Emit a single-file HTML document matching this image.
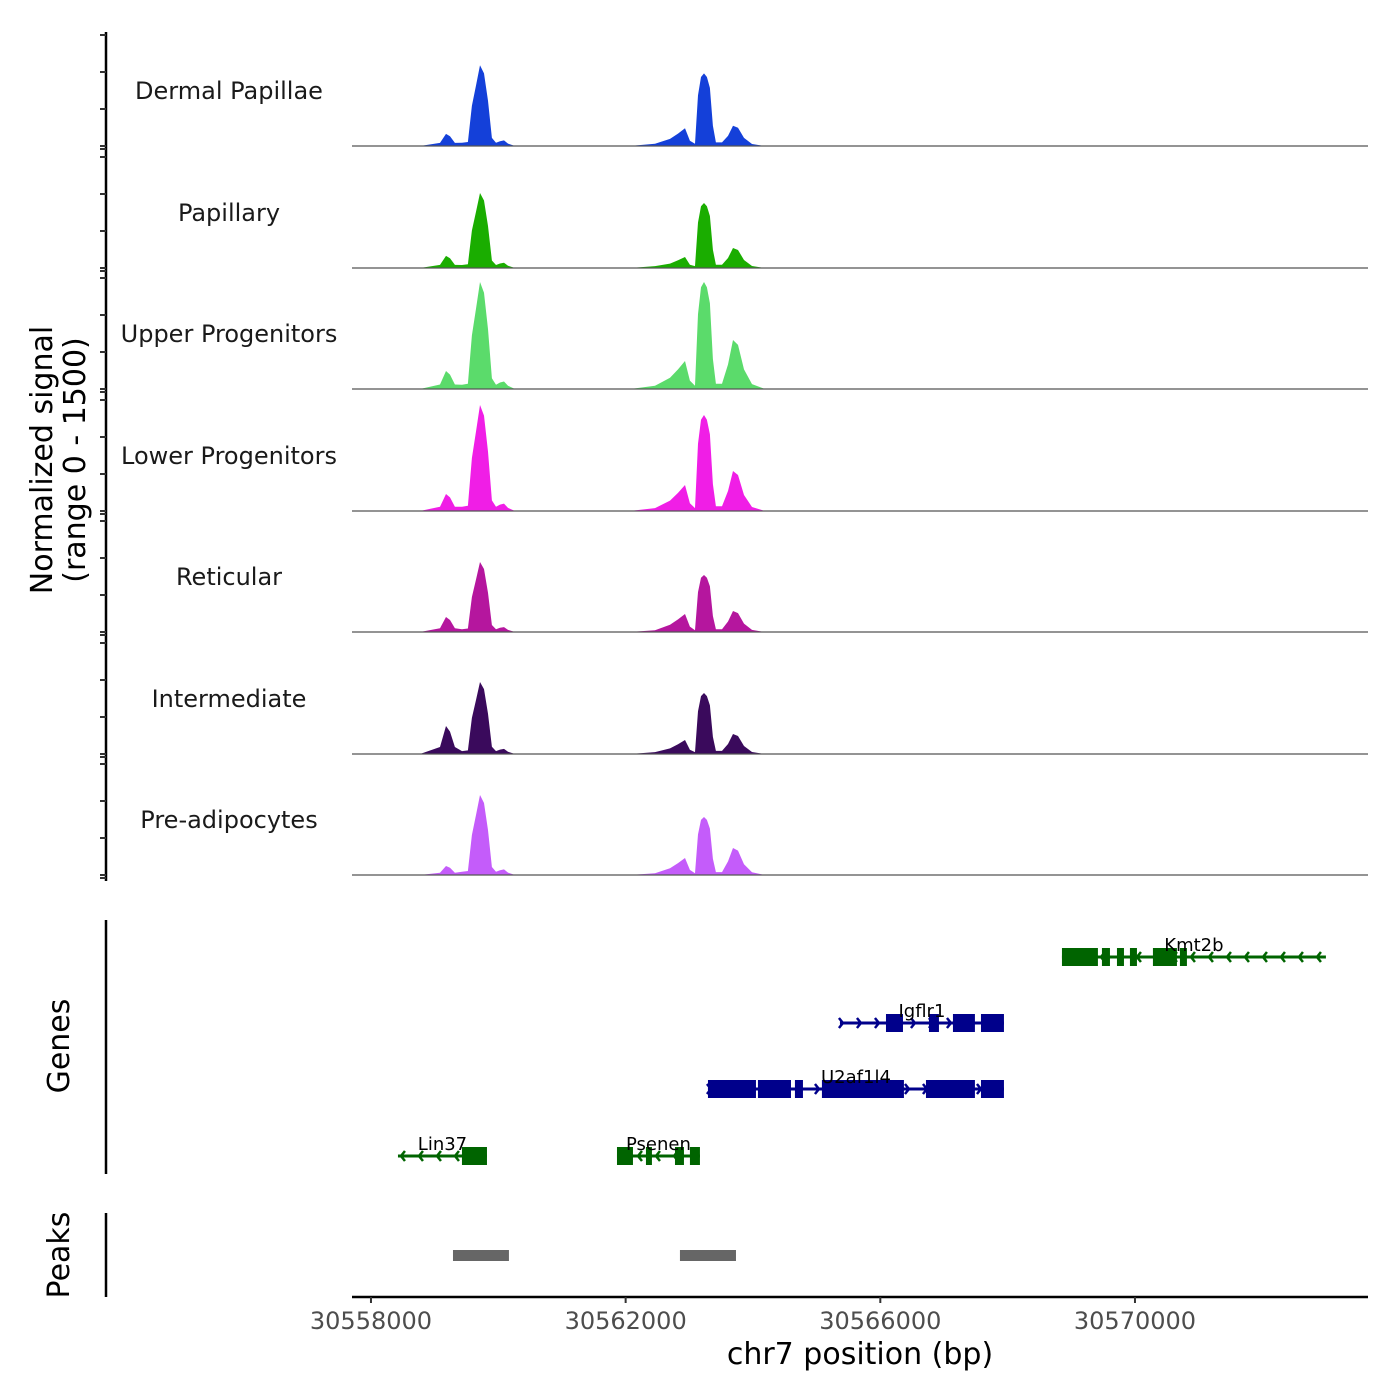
<!DOCTYPE html>
<html><head><meta charset="utf-8">
<style>
html,body{margin:0;padding:0;background:#fff;}
svg{display:block;font-family:"DejaVu Sans","Liberation Sans",sans-serif;}
</style></head>
<body>
<svg id="chart" width="1400" height="1400" viewBox="0 0 1400 1400" xmlns="http://www.w3.org/2000/svg">
<rect width="1400" height="1400" fill="#fff"/>
<g id="tracks"></g>
<g id="genes"></g>
<g id="peaks"></g>
<g id="axes"></g>
</svg>
<script>
// ---- data ----
const binPositions = [30557702,30558770,30559084,30559178,30559241,30559319,30559429,30559523,30559586,30559649,30559712,30559775,30559838,30559900,30559963,30560026,30560089,30560152,30560262,30562068,30562461,30562696,30562822,30562932,30563010,30563089,30563136,30563183,30563230,30563277,30563324,30563371,30563418,30563513,30563607,30563686,30563764,30563859,30563984,30564188,30573660];
const trackNames = ["Dermal Papillae","Papillary","Upper Progenitors","Lower Progenitors","Reticular","Intermediate","Pre-adipocytes"];
const trackColors = ["#1440d9","#1aad00","#5bdb6b","#f01ee6","#b5169e","#3a0a5c","#c45cfa"];
const dermalValues = [0,0,38,150,120,38,40,50,500,750,1000,900,560,100,40,60,70,30,0,0,27,88,154,220,66,27,630,855,900,855,720,252,45,45,125,250,225,100,25,0,0];
const papillaryValues = [0,0,38,150,120,38,37,47,465,698,930,837,521,93,37,56,65,28,0,0,24,54,95,136,41,24,564,766,806,766,645,226,40,40,124,248,223,99,25,0,0];
const upperValues = [0,0,56,223,178,56,53,66,664,995,1327,1194,743,133,53,80,93,40,0,0,40,139,243,347,104,40,929,1261,1327,1261,1062,372,66,66,304,608,547,243,61,0,0];
const lowerValues = [0,0,53,211,169,53,53,66,657,986,1314,1183,736,131,53,79,92,39,0,0,36,129,225,322,97,36,833,1131,1190,1131,952,333,60,60,248,496,446,198,50,0,0];
const reticularValues = [0,0,47,186,149,47,35,43,434,651,868,781,486,87,35,52,61,26,0,0,21,89,156,223,67,21,495,672,707,672,566,198,35,35,130,260,234,104,26,0,0];
const intermediateValues = [0,0,87,347,278,87,36,45,447,670,893,804,500,89,36,54,63,27,0,0,23,70,122,174,52,23,529,718,756,718,605,212,38,38,124,248,223,99,25,0,0];
const preadipoValues = [0,0,28,112,90,28,40,50,496,744,992,893,556,99,40,60,69,30,0,0,22,84,148,211,63,22,503,683,719,683,575,201,36,36,168,335,302,134,34,0,0];
const trackValues = [dermalValues,papillaryValues,upperValues,lowerValues,reticularValues,intermediateValues,preadipoValues];

const geneNames = ["Kmt2b","Igflr1","U2af1l4","Lin37","Psenen"];
const geneStarts = [30568853,30565366,30563293,30558424,30561864];
const geneEnds = [30572999,30567942,30567942,30559822,30563167];
const geneStrands = ["-","+","+","-","-"];
const geneRows = [0,1,2,3,3];
const geneExons = [
  [[30568853,30569418],[30569481,30569607],[30569717,30569827],[30569921,30570031],[30570282,30570659],[30570706,30570816]],
  [[30566089,30566356],[30566764,30566921],[30567141,30567486],[30567581,30567942]],
  [[30563293,30564047],[30564078,30564597],[30564659,30564785],[30565083,30566371],[30566717,30567486],[30567581,30567942]],
  [[30559429,30559822]],
  [[30561864,30562115],[30562319,30562413],[30562775,30562916],[30563010,30563167]]
];
const peakStarts = [30559288,30562853];
const peakEnds = [30560167,30563733];
const xTicks = [30558000,30562000,30566000,30570000];
const yRangeMax = 1500;

// ---- scales ----
const NS="http://www.w3.org/2000/svg";
const x0=352,x1=1368,d0=30557702,d1=30573660;
function xs(v){return x0+(v-d0)/(d1-d0)*(x1-x0);}
const baselines=[146,268,389,511,632,754,875];
function ys(v,i){return baselines[i]-v*121/yRangeMax;}
function el(tag,attrs,parent){const e=document.createElementNS(NS,tag);for(const k in attrs)e.setAttribute(k,attrs[k]);parent.appendChild(e);return e;}

const gT=document.getElementById('tracks');
trackValues.forEach((vals,i)=>{
  let d='M'+xs(binPositions[0])+','+baselines[i];
  vals.forEach((v,j)=>{d+=' L'+xs(binPositions[j]).toFixed(1)+','+ys(v,i).toFixed(1);});
  d+=' L'+xs(binPositions[binPositions.length-1])+','+baselines[i]+' Z';
  const p=el('path',{d:d,fill:trackColors[i]},gT);
  
  
  const bl=el('line',{x1:x0,x2:x1,y1:baselines[i],y2:baselines[i],stroke:'#555','stroke-width':1.2},gT);
  
  
  const t=el('text',{x:229,y:baselines[i]-47,'text-anchor':'middle','font-size':24,fill:'#1a1a1a'},gT);
  t.textContent=trackNames[i];
  
  
});

// genes
const gG=document.getElementById('genes');
const rowY=[957,1023,1089,1156];
geneNames.forEach((name,i)=>{
  const y=rowY[geneRows[i]], c=geneStrands[i]=='-'?'#006400':'#00008b';
  const a=xs(geneStarts[i]), b=xs(geneEnds[i]);
  const g=el('g',{},gG);
  
  
  el('line',{x1:a,x2:b,y1:y,y2:y,stroke:c,'stroke-width':3},g);
  for(let px=a+3;px<=b-1;px+=18){
    const dx=geneStrands[i]=='-'?4:-4;
    el('polyline',{points:(px+dx)+','+(y-5)+' '+px+','+y+' '+(px+dx)+','+(y+5),fill:'none',stroke:c,'stroke-width':2.5},g);
  }
  geneExons[i].forEach(ex=>{
    el('rect',{x:xs(ex[0]),y:y-9,width:xs(ex[1])-xs(ex[0]),height:18,fill:c},g);
  });
  const t=el('text',{x:(a+b)/2,y:y-6,'text-anchor':'middle','font-size':18,fill:'#000'},g);
  t.textContent=name;
  
  
});

// peaks
const gP=document.getElementById('peaks');
peakStarts.forEach((s,i)=>{
  const r=el('rect',{x:xs(s),y:1250,width:xs(peakEnds[i])-xs(s),height:11,fill:'#666'},gP);
  
  
});

// axes
const gA=document.getElementById('axes');
el('line',{x1:106,x2:106,y1:32,y2:881,stroke:'#000','stroke-width':2.5},gA);
baselines.forEach(b=>{
  for(let k=0;k<4;k++){el('line',{x1:100,x2:106,y1:b-k*37,y2:b-k*37,stroke:'#333','stroke-width':2},gA);}
  el('line',{x1:100,x2:106,y1:b+3,y2:b+3,stroke:'#333','stroke-width':2},gA);
});
el('line',{x1:106,x2:106,y1:920,y2:1174,stroke:'#000','stroke-width':2.5},gA);
el('line',{x1:106,x2:106,y1:1213,y2:1297,stroke:'#000','stroke-width':2.5},gA);
el('line',{x1:x0,x2:x1,y1:1297,y2:1297,stroke:'#000','stroke-width':2.5},gA);
xTicks.forEach(v=>{
  el('line',{x1:xs(v),x2:xs(v),y1:1297,y2:1303,stroke:'#333','stroke-width':2},gA);
  const t=el('text',{x:xs(v),y:1329,'text-anchor':'middle','font-size':24,fill:'#4d4d4d'},gA);
  t.textContent=v;
  
  
});
function label(txt,x,y,rot,size,name){
  const t=el('text',{x:x,y:y,'text-anchor':'middle','font-size':size,fill:'#000',transform:rot?'rotate(-90 '+x+' '+y+')':''},gA);
  t.textContent=txt;
  
  
}
label('chr7 position (bp)',860,1364,false,30,'x-axis-title');
label('Normalized signal',52,460,true,30,'y-axis-title');
label('(range 0 - 1500)',85,460,true,30,'y-axis-range');
label('Genes',69,1046,true,30,'genes-title');
label('Peaks',69,1255,true,30,'peaks-title');
</script>
</body></html>
